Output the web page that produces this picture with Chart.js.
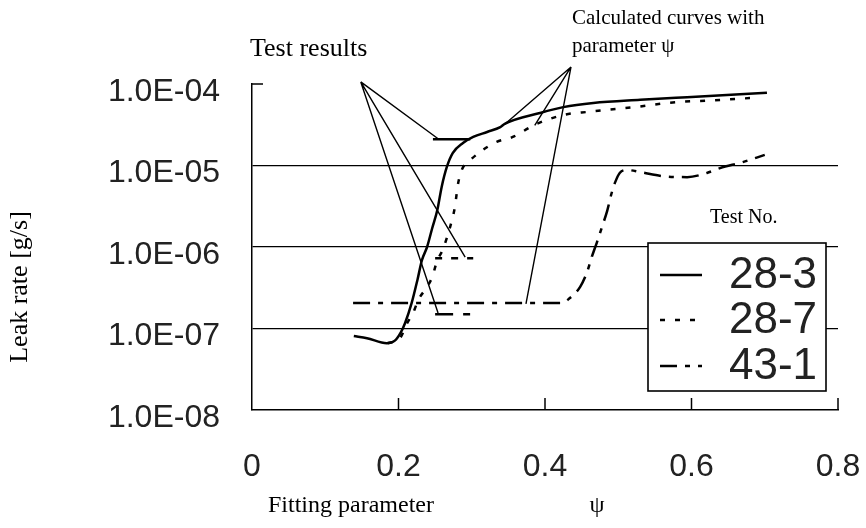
<!DOCTYPE html>
<html><head><meta charset="utf-8">
<script src="https://cdn.jsdelivr.net/npm/chart.js@4.4.1/dist/chart.umd.min.js"></script>
<style>html,body{margin:0;padding:0;background:#fff;}#wrap{width:866px;height:528px;position:relative;}</style>
</head><body><div id="wrap"><canvas id="c" width="866" height="528"></canvas></div>
<script>
// ---- axis ticks ----
const xTickValues = [0, 0.2, 0.4, 0.6, 0.8];
const xTickLabels = ['0', '0.2', '0.4', '0.6', '0.8'];
const yTickValues = [1e-8, 1e-7, 1e-6, 1e-5, 1e-4];
const yTickLabels = ['1.0E-08', '1.0E-07', '1.0E-06', '1.0E-05', '1.0E-04'];
const yGridValues = [1e-7, 1e-6, 1e-5];

// ---- calculated curves (Test No.) ----
const seriesNames = ['28-3', '28-7', '43-1'];
const x283 = [0.139, 0.157, 0.184, 0.195, 0.203, 0.209, 0.218, 0.226, 0.232, 0.239, 0.246, 0.253, 0.259, 0.266, 0.274, 0.288, 0.302, 0.321, 0.339, 0.345, 0.393, 0.425, 0.466, 0.530, 0.594, 0.703];
const y283 = [8.1e-8, 7.6e-8, 6.6e-8, 7.1e-8, 8.9e-8, 1.17e-7, 2.06e-7, 4.0e-7, 6.9e-7, 1.0e-6, 1.7e-6, 2.84e-6, 5.5e-6, 9.6e-6, 1.42e-5, 1.89e-5, 2.24e-5, 2.58e-5, 2.96e-5, 3.24e-5, 4.4e-5, 5.2e-5, 5.85e-5, 6.4e-5, 6.9e-5, 7.8e-5];
const x287 = [0.185, 0.202, 0.212, 0.220, 0.227, 0.239, 0.246, 0.253, 0.259, 0.266, 0.273, 0.277, 0.281, 0.284, 0.288, 0.298, 0.315, 0.334, 0.356, 0.386, 0.425, 0.461, 0.526, 0.571, 0.639, 0.684];
const y287 = [6.6e-8, 7.6e-8, 1.17e-7, 1.55e-7, 2.24e-7, 3.24e-7, 4.27e-7, 6.9e-7, 8.7e-7, 1.29e-6, 2.14e-6, 3.1e-6, 5.75e-6, 7.6e-6, 9.5e-6, 1.17e-5, 1.55e-5, 1.95e-5, 2.24e-5, 3.16e-5, 4.17e-5, 4.57e-5, 5.25e-5, 5.9e-5, 6.37e-5, 6.76e-5];
const x431 = [0.138, 0.25, 0.35, 0.423, 0.434, 0.448, 0.457, 0.464, 0.471, 0.478, 0.485, 0.491, 0.496, 0.502, 0.512, 0.530, 0.561, 0.594, 0.621, 0.639, 0.670, 0.700];
const y431 = [2.06e-7, 2.05e-7, 2.05e-7, 2.06e-7, 2.37e-7, 3.24e-7, 4.8e-7, 7.6e-7, 1.15e-6, 1.78e-6, 2.8e-6, 4.6e-6, 6.3e-6, 8.1e-6, 8.8e-6, 8.3e-6, 7.4e-6, 7.2e-6, 8.1e-6, 9.3e-6, 1.1e-5, 1.35e-5];

// ---- test results (short horizontal marks) ----
const testAX = [0.247, 0.298]; const testAY = [2.1e-5, 2.1e-5];
const testBX = [0.250, 0.302]; const testBY = [7.3e-7, 7.3e-7];
const testCX = [0.250, 0.300]; const testCY = [1.5e-7, 1.5e-7];

// ---- annotation leader lines (apex, target pairs) ----
const leaderTestX = [0.1485, 0.255, 0.1485, 0.291, 0.1485, 0.254];
const leaderTestY = [1.06e-4, 2.1e-5, 1.06e-4, 7.5e-7, 1.06e-4, 1.55e-7];
const leaderCalcX = [0.4355, 0.345, 0.4355, 0.386, 0.4355, 0.374];
const leaderCalcY = [1.62e-4, 3.2e-5, 1.62e-4, 3.1e-5, 1.62e-4, 2.0e-7];

// ---- texts ----
const xTitleText = 'Fitting parameter';
const xTitleSymbol = 'ψ';
const yTitleText = 'Leak rate [g/s]';
const noteTest = 'Test results';
const noteCalc = ['Calculated curves with', 'parameter ψ'];
const legendTitle = 'Test No.';

function pts(xs, ys) { return xs.map((x, i) => ({x: x, y: ys[i]})); }
function pairs(xs, ys) {
  const out = [];
  for (let i = 0; i < xs.length; i += 2) {
    if (i > 0) out.push({x: xs[i], y: null});
    out.push({x: xs[i], y: ys[i]});
    out.push({x: xs[i + 1], y: ys[i + 1]});
  }
  return out;
}

const SOLID = [];
const DOTS = [5, 10];
const DASHDOT = [17, 8, 5, 8];

const curve = {pointRadius: 0, borderColor: '#000', backgroundColor: '#000', fill: false, borderWidth: 2.5, cubicInterpolationMode: 'monotone'};
const lead = {pointRadius: 0, borderColor: '#000', fill: false, borderWidth: 1.4, clip: false, spanGaps: false, tension: 0};

const datasets = [
  Object.assign({label: seriesNames[0], data: pts(x283, y283), borderDash: SOLID, isLegend: true}, curve),
  Object.assign({label: seriesNames[1], data: pts(x287, y287), borderDash: DOTS, isLegend: true}, curve),
  Object.assign({label: seriesNames[2], data: pts(x431, y431), borderDash: DASHDOT, isLegend: true}, curve),
  Object.assign({label: 'test A', data: pts(testAX, testAY), borderDash: SOLID}, curve),
  Object.assign({label: 'test B', data: pts(testBX, testBY), borderDash: [7, 9]}, curve),
  Object.assign({label: 'test C', data: pts(testCX, testCY), borderDash: [18, 10, 7, 10]}, curve),
  Object.assign({label: 'lead test', data: pairs(leaderTestX, leaderTestY)}, lead),
  Object.assign({label: 'lead calc', data: pairs(leaderCalcX, leaderCalcY)}, lead)
];

const TICK_FONT = {family: '"Liberation Sans", Arial, sans-serif', size: 32};
const SERIF = '"Liberation Serif", "Times New Roman", serif';

const decor = {
  id: 'decor',
  afterDraw(chart) {
    const {ctx, chartArea: a, scales: {x, y}} = chart;
    ctx.save();
    ctx.strokeStyle = '#000';
    ctx.lineWidth = 1.5;
    // inward tick marks on x axis
    xTickValues.slice(1).forEach(v => {
      const px = x.getPixelForValue(v);
      ctx.beginPath(); ctx.moveTo(px, a.bottom); ctx.lineTo(px, a.bottom - 12); ctx.stroke();
    });
    // top tick on y axis
    const ty = y.getPixelForValue(yTickValues[yTickValues.length - 1]);
    ctx.beginPath(); ctx.moveTo(a.left, ty); ctx.lineTo(a.left + 11, ty); ctx.stroke();

    // legend box
    const bx = 648, by = 243, bw = 178, bh = 148;
    ctx.fillStyle = '#fff';
    ctx.fillRect(bx, by, bw, bh);
    ctx.lineWidth = 1.6;
    ctx.strokeRect(bx, by, bw, bh);
    const rows = [275, 320, 366];
    const legendSets = chart.data.datasets.filter(d => d.isLegend);
    legendSets.forEach((d, i) => {
      ctx.save();
      ctx.strokeStyle = d.borderColor;
      ctx.lineWidth = d.borderWidth;
      ctx.setLineDash(d.borderDash || []);
      ctx.beginPath(); ctx.moveTo(660, rows[i]); ctx.lineTo(702, rows[i]); ctx.stroke();
      ctx.restore();
      ctx.fillStyle = '#222';
      ctx.font = '44px "Liberation Sans", Arial, sans-serif';
      ctx.textAlign = 'left';
      ctx.textBaseline = 'middle';
      ctx.fillText(d.label, 729, rows[i] + 1);
    });

    // texts
    ctx.fillStyle = '#000';
    ctx.textBaseline = 'middle';
    ctx.textAlign = 'left';
    ctx.font = '26px ' + SERIF;
    ctx.fillText(noteTest, 250, 49);
    ctx.font = '21px ' + SERIF;
    ctx.fillText(noteCalc[0], 572, 18);
    ctx.fillText(noteCalc[1], 572, 46);
    ctx.font = '20px ' + SERIF;
    ctx.fillText(legendTitle, 710, 218);
    ctx.font = '24px ' + SERIF;
    ctx.fillText(xTitleText, 268, 506);
    ctx.textAlign = 'center';
    ctx.fillText(xTitleSymbol, 597, 506);
    ctx.save();
    ctx.translate(20, 287);
    ctx.rotate(-Math.PI / 2);
    ctx.font = '26px ' + SERIF;
    ctx.textAlign = 'center';
    ctx.fillText(yTitleText, 0, 0);
    ctx.restore();
    ctx.restore();
  }
};

new Chart(document.getElementById('c'), {
  type: 'line',
  data: {datasets: datasets},
  plugins: [decor],
  options: {
    responsive: false,
    animation: false,
    devicePixelRatio: 1,
    layout: {padding: {top: 84, right: 28, bottom: 0, left: 0}},
    plugins: {legend: {display: false}, tooltip: {enabled: false}, title: {display: false}},
    scales: {
      x: {
        type: 'linear', min: 0, max: 0.8,
        afterBuildTicks: s => { s.ticks = xTickValues.map(v => ({value: v})); },
        afterFit: s => { s.height = 118; },
        ticks: {callback: (v, i) => xTickLabels[i], font: TICK_FONT, color: '#222', padding: 4, maxRotation: 0, autoSkip: false},
        grid: {display: true, drawOnChartArea: false, drawTicks: true, tickLength: 34, color: 'rgba(0,0,0,0)'},
        border: {display: true, color: '#000', width: 1.5}
      },
      y: {
        type: 'logarithmic', min: 1e-8, max: 1e-4,
        afterBuildTicks: s => { s.ticks = yTickValues.map(v => ({value: v})); },
        afterFit: s => { s.width = 252; },
        ticks: {callback: (v, i) => yTickLabels[i], font: TICK_FONT, color: '#222', padding: 32, labelOffset: 8, autoSkip: false},
        grid: {
          drawTicks: false, lineWidth: 1.3,
          color: c => (c.tick && yGridValues.some(g => Math.abs(c.tick.value / g - 1) < 1e-6)) ? '#000' : 'rgba(0,0,0,0)'
        },
        border: {display: true, color: '#000', width: 1.5}
      }
    }
  }
});
</script>
</body></html>
